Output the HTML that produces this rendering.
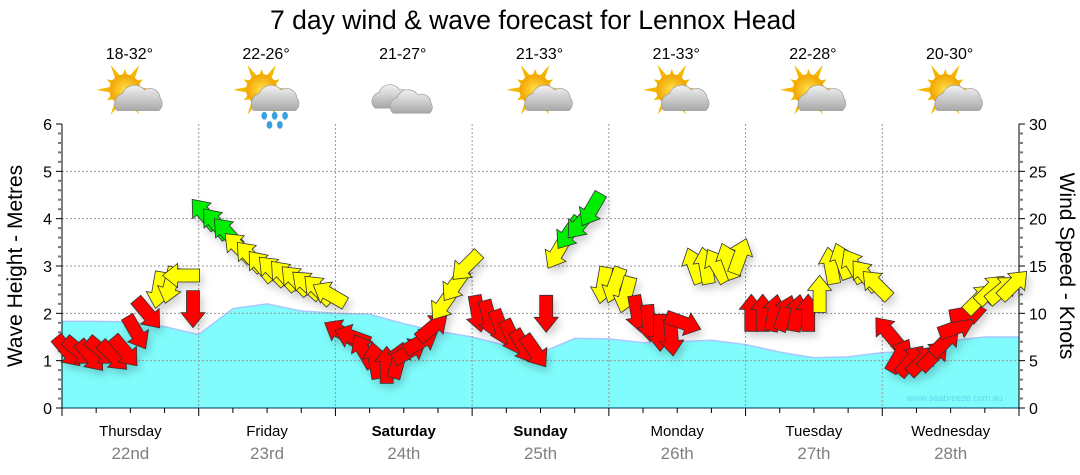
<!DOCTYPE html>
<html><head><meta charset="utf-8">
<style>
body{margin:0;background:#fff;}
svg{display:block;font-family:"Liberation Sans",sans-serif;}
</style></head>
<body>
<svg id="chart" width="1080" height="475" viewBox="0 0 1080 475">
<defs>
<filter id="sh" x="-50%" y="-50%" width="200%" height="200%"><feDropShadow dx="3" dy="5" stdDeviation="4" flood-color="#000" flood-opacity="0.18"/></filter>
<radialGradient id="sun" cx="50%" cy="50%" r="50%"><stop offset="0" stop-color="#ffe04a"/><stop offset="1" stop-color="#f2a400"/></radialGradient>
<linearGradient id="cloud" x1="0" y1="0" x2="0" y2="1"><stop offset="0" stop-color="#f2f2f2"/><stop offset="1" stop-color="#a8a8a8"/></linearGradient>
</defs>
<text x="533" y="29" text-anchor="middle" font-size="26.5" fill="#000">7 day wind &amp; wave forecast for Lennox Head</text>
<g id="plot"></g>
</svg>
<script>
const days = ["Thursday","Friday","Saturday","Sunday","Monday","Tuesday","Wednesday"];
const dates = ["22nd","23rd","24th","25th","26th","27th","28th"];
const boldDays = [false,false,true,true,false,false,false];
const temps = ["18-32°","22-26°","21-27°","21-33°","21-33°","22-28°","20-30°"];
const icons = ["sun-cloud","sun-rain","cloud","sun-cloud","sun-cloud","sun-cloud","sun-cloud"];
const waveTicks = [0,1,2,3,4,5,6];
const windTicks = [0,5,10,15,20,25,30];
// wave height (m), 4 samples per day
const waveHeight = [1.83,1.83,1.82,1.72,1.55,2.1,2.2,2.05,2.0,1.98,1.78,1.62,1.5,1.32,1.16,1.47,1.46,1.38,1.4,1.43,1.34,1.18,1.06,1.08,1.17,1.2,1.42,1.5,1.5];
// wind speed (knots), 12 samples per day
const windSpeed = [
6,6,5.5,6,5.5,6,8,10,12.5,13,14,10.5,
20.5,19.5,18.5,17,16,15,14.5,14,13.5,13,12.5,12,
8,7.5,6,5,4.5,5,6,7,8.5,11,13,15,
10,9.5,8.5,7.5,6.5,6,10,16.5,18.5,19.5,21,13,
13,12,10,9,8,7.5,9,15,15,15,15.5,16,
10,10,10,10,10,10,12,15,15.5,15,14,13,
8,5.5,5,5,5.5,7,8.5,10,11.5,12.5,12.5,13];
// direction arrow points to (deg, 0=up, clockwise)
const windDir = [
140,130,140,130,135,140,150,140,190,195,270,180,
320,320,318,315,318,320,315,318,315,312,315,300,
300,290,330,350,0,15,60,60,50,215,215,225,
170,165,160,155,150,145,180,210,215,220,210,190,
200,195,170,175,180,175,110,340,350,330,340,20,
0,0,10,20,10,0,0,350,340,330,320,315,
320,30,40,45,45,45,70,80,45,45,50,45];

const X0=62, X1=1019, Y0=408, Y1=124;
const dayW=(X1-X0)/7;
const xDay=d=>X0+d*dayW;
const yWave=v=>Y0-(v/6)*(Y0-Y1);
const yWind=v=>Y0-(v/30)*(Y0-Y1);
const NS="http://www.w3.org/2000/svg";
const plot=document.getElementById('plot');
function mk(tag,attrs,parent){const e=document.createElementNS(NS,tag);for(const k in attrs)e.setAttribute(k,attrs[k]);(parent||plot).appendChild(e);return e;}

let d=`M${X0},${Y0}`;
waveHeight.forEach((v,i)=>{d+=` L${xDay(i/4).toFixed(1)},${yWave(v).toFixed(1)}`;});
d+=` L${X1},${Y0} Z`;
const area=mk('path',{d:d,fill:'#80fcfc',stroke:'none'});


let ld='';
waveHeight.forEach((v,i)=>{ld+=(i?' L':'M')+xDay(i/4).toFixed(1)+','+yWave(v).toFixed(1);});
const wl=mk('path',{d:ld,fill:'none',stroke:'#aac8ff','stroke-width':1.5});



for(let v=1;v<6;v++){const g=mk('line',{x1:X0,x2:X1,y1:yWave(v),y2:yWave(v),stroke:'#999','stroke-dasharray':'2,2','stroke-width':1});

}
for(let i=1;i<7;i++){const g=mk('line',{x1:xDay(i),x2:xDay(i),y1:Y1,y2:Y0,stroke:'#999','stroke-dasharray':'2,2','stroke-width':1});

}

const wm=mk('text',{x:955,y:401,'text-anchor':'middle','font-size':9,fill:'#5fd8e8'});
wm.textContent='www.seabreeze.com.au';



mk('line',{x1:X0,x2:X0,y1:Y1,y2:Y0,stroke:'#000'});
mk('line',{x1:X1,x2:X1,y1:Y1,y2:Y0,stroke:'#000'});
mk('line',{x1:X0,x2:X1,y1:Y0,y2:Y0,stroke:'#003060'});
for(let v=0;v<=6.001;v+=0.2){const y=yWave(v);const maj=Math.abs(v-Math.round(v))<0.01;mk('line',{x1:X0-(maj?6:4),x2:X0,y1:y,y2:y,stroke:maj?'#000':'#777','stroke-width':maj?1:2});}
waveTicks.forEach(v=>{const t=mk('text',{x:X0-10,y:yWave(v)+6,'text-anchor':'end','font-size':16,fill:'#000'});t.textContent=v;

});
for(let v=0;v<=30;v++){const y=yWind(v);const maj=v%5==0;mk('line',{x1:X1,x2:X1+(maj?6:4),y1:y,y2:y,stroke:maj?'#000':'#777','stroke-width':maj?1:2});}
windTicks.forEach(v=>{const t=mk('text',{x:X1+10,y:yWind(v)+6,'font-size':16,fill:'#000'});t.textContent=v;

});
for(let i=0;i<=28;i++){const x=xDay(i/4);const maj=i%4==0;mk('line',{x1:x,x2:x,y1:Y0,y2:Y0+(maj?8:5),stroke:'#000'});}
const lt=mk('text',{x:0,y:0,transform:`translate(22,266) rotate(-90)`,'text-anchor':'middle','font-size':21,fill:'#000'});lt.textContent='Wave Height - Metres';


const rt=mk('text',{x:0,y:0,transform:`translate(1060,266) rotate(90)`,'text-anchor':'middle','font-size':21,fill:'#000'});rt.textContent='Wind Speed - Knots';



function icon(kind,cx,cy){
  const g=mk('g',{transform:`translate(${cx},${cy}) scale(1.3) translate(${-cx},${-cy})`});
  
  
  if(kind!=='cloud'){
    const sx=cx-8, sy=cy-4;
    for(let a=0;a<360;a+=30){const r=a*Math.PI/180;const l=(a%60==0)?22:16;
      mk('polygon',{points:`${sx+Math.cos(r)*l},${sy+Math.sin(r)*l} ${sx+Math.cos(r+0.25)*10},${sy+Math.sin(r+0.25)*10} ${sx+Math.cos(r-0.25)*10},${sy+Math.sin(r-0.25)*10}`,fill:'#f5b800'},g);}
    mk('circle',{cx:sx,cy:sy,r:12,fill:'url(#sun)'},g);
    mk('path',{d:`M${cx-14},${cy+12} a8,8 0 0 1 4,-13 a10,10 0 0 1 17,-3 a8,8 0 0 1 12,6 a7,7 0 0 1 -1,10 z`,fill:'url(#cloud)',stroke:'#999','stroke-width':0.5},g);
    if(kind==='sun-rain'){[[-6,16],[2,16],[10,16],[-2,23],[6,23]].forEach(p=>mk('ellipse',{cx:cx+p[0],cy:cy+p[1],rx:2.2,ry:3,fill:'#3aa0e0'},g));}
  } else {
    mk('path',{d:`M${cx-26},${cy+10} a7,7 0 0 1 3,-12 a9,9 0 0 1 16,-2 a7,7 0 0 1 8,4 l-2,10 z`,fill:'url(#cloud)',stroke:'#999','stroke-width':0.5},g);
    mk('path',{d:`M${cx-12},${cy+14} a7,7 0 0 1 3,-12 a9,9 0 0 1 16,-2 a7,7 0 0 1 10,6 a6,6 0 0 1 -1,8 z`,fill:'url(#cloud)',stroke:'#999','stroke-width':0.5},g);
  }
}
days.forEach((n,i)=>{
  const cx=xDay(i+0.5);
  const t=mk('text',{x:cx,y:436,'text-anchor':'middle','font-size':15,fill:'#000','font-weight':boldDays[i]?'bold':'normal'});t.textContent=n;
  
  
  const dt=mk('text',{x:cx,y:459,'text-anchor':'middle','font-size':17,fill:'#808080'});dt.textContent=dates[i];
  
  
  const tp=mk('text',{x:cx-1,y:59,'text-anchor':'middle','font-size':16,fill:'#000'});tp.textContent=temps[i];
  
  
  icon(icons[i],cx+5,95);
});

const arrows=mk('g',{filter:'url(#sh)'});


const step=dayW/12;
windSpeed.forEach((s,i)=>{
  const x=X0+(i+0.5)*step, y=yWind(s);
  const col=s>=18?'#00ee00':(s>=11?'#ffff00':'#ff0000');
  const p=mk('polygon',{points:'0,-19 12,-4 6.5,-4 6.5,18 -6.5,18 -6.5,-4 -12,-4',fill:col,stroke:'#333','stroke-width':0.8,'stroke-linejoin':'miter',transform:`translate(${x.toFixed(1)},${y.toFixed(1)}) rotate(${windDir[i]})`},arrows);
  
  
});
</script>
</body></html>
